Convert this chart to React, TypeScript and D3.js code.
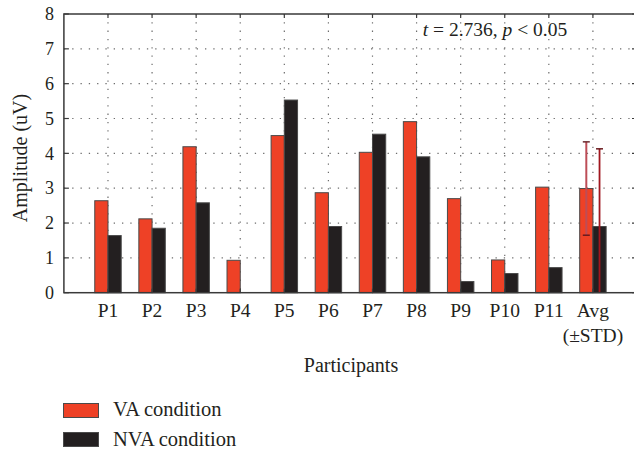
import React from "react";
import * as d3 from "d3";

const categories = ["P1", "P2", "P3", "P4", "P5", "P6", "P7", "P8", "P9", "P10", "P11", "Avg"];
const vaValues = [2.64, 2.12, 4.19, 0.93, 4.51, 2.87, 4.03, 4.91, 2.7, 0.94, 3.03, 2.99];
const nvaValues = [1.64, 1.85, 2.58, 0, 5.53, 1.9, 4.55, 3.9, 0.32, 0.55, 0.72, 1.9];
const avgStd = [1.34, 2.23];
const yTicks = [0, 1, 2, 3, 4, 5, 6, 7, 8];

const W = 634;
const H = 451;
const FONT = "'Liberation Serif', 'DejaVu Serif', serif";
const VA_COLOR = "#ee4126";
const NVA_COLOR = "#231f20";
const TXT = "#231f20";

export default function App() {
  const x = d3.scaleLinear().domain([0, 13]).range([63.9, 637]);
  const y = d3.scaleLinear().domain([0, 8]).range([292.7, 14]);
  const bw = x(0.3) - x(0);
  const left = x(0);
  const right = x(13);
  const top = y(8);
  const bottom = y(0);
  const grid = "#6d6d6d";

  const avgIdx = categories.length;
  const errVa = { cx: x(avgIdx) - bw / 2, hi: vaValues[11] + avgStd[0], lo: vaValues[11] - avgStd[0] };
  const errNva = { cx: x(avgIdx) + bw / 2, hi: nvaValues[11] + avgStd[1], lo: Math.max(0, nvaValues[11] - avgStd[1]) };

  return (
    <svg width={W} height={H} style={{ position: "absolute", left: 0, top: 0, background: "#fff" }} fontFamily={FONT}>
      {yTicks.slice(1, -1).map((t) => (
        <line key={"gy" + t} x1={left} x2={right} y1={y(t)} y2={y(t)} stroke={grid} strokeWidth={1.2} strokeDasharray="1.3,7" />
      ))}
      {categories.map((c, i) => (
        <line key={"gx" + c} x1={x(i + 1)} x2={x(i + 1)} y1={top} y2={bottom} stroke={grid} strokeWidth={1.2} strokeDasharray="1.3,7" />
      ))}
      {categories.map((c, i) => (
        <g key={"b" + c}>
          {vaValues[i] > 0 && (
            <rect x={x(i + 1) - bw} y={y(vaValues[i])} width={bw} height={bottom - y(vaValues[i])} fill={VA_COLOR} stroke="#4a4a4a" strokeWidth={1} />
          )}
          {nvaValues[i] > 0 && (
            <rect x={x(i + 1)} y={y(nvaValues[i])} width={bw} height={bottom - y(nvaValues[i])} fill={NVA_COLOR} stroke="#4a4a4a" strokeWidth={1} />
          )}
        </g>
      ))}
      <g>
        <line x1={errVa.cx} x2={errVa.cx} y1={y(errVa.hi)} y2={y(errVa.lo)} stroke="#bd4d57" strokeWidth={2} />
        <line x1={errVa.cx - 3.5} x2={errVa.cx + 3.5} y1={y(errVa.hi)} y2={y(errVa.hi)} stroke="#6a2a2e" strokeWidth={1.5} />
        <line x1={errVa.cx - 3.5} x2={errVa.cx + 3.5} y1={y(errVa.lo)} y2={y(errVa.lo)} stroke="#6a1a1e" strokeWidth={1.5} />
        <line x1={errNva.cx} x2={errNva.cx} y1={y(errNva.hi)} y2={y(errNva.lo)} stroke="#a0161e" strokeWidth={1.8} />
        <line x1={errNva.cx - 3.5} x2={errNva.cx + 3.5} y1={y(errNva.hi)} y2={y(errNva.hi)} stroke="#6a1a1e" strokeWidth={1.5} />
      </g>
      <rect x={left} y={top} width={right - left} height={bottom - top} fill="none" stroke="#3a3a3a" strokeWidth={1.5} />
      {yTicks.map((t) => (
        <g key={"yt" + t}>
          <line x1={left} x2={left + 5} y1={y(t)} y2={y(t)} stroke="#3a3a3a" strokeWidth={1.2} />
          <line x1={right - 5} x2={right} y1={y(t)} y2={y(t)} stroke="#3a3a3a" strokeWidth={1.2} />
          <text x={54} y={y(t)} dy="0.35em" textAnchor="end" fontSize={18} fill={TXT}>{t}</text>
        </g>
      ))}
      {categories.map((c, i) => (
        <g key={"xt" + c}>
          <line x1={x(i + 1)} x2={x(i + 1)} y1={top} y2={top + 4} stroke="#3a3a3a" strokeWidth={1.2} />
          <line x1={x(i + 1)} x2={x(i + 1)} y1={bottom} y2={bottom - 4} stroke="#3a3a3a" strokeWidth={1.2} />
          <text x={x(i + 1)} y={317} textAnchor="middle" fontSize={19.5} fill={TXT}>{c}</text>
        </g>
      ))}
      <text x={x(12)} y={342} textAnchor="middle" fontSize={19.5} fill={TXT}>(±STD)</text>
      <text x={351} y={372} textAnchor="middle" fontSize={20} fill={TXT}>Participants</text>
      <text transform={`translate(27,158) rotate(-90)`} textAnchor="middle" fontSize={20} fill={TXT}>Amplitude (uV)</text>
      <text x={495} y={36} textAnchor="middle" fontSize={19.5} fill={TXT}>
        <tspan fontStyle="italic">t</tspan> = 2.736, <tspan fontStyle="italic">p</tspan> {"< 0.05"}
      </text>
      <rect x={63.5} y={403.5} width={35} height={14} fill={VA_COLOR} stroke="#4a4a4a" strokeWidth={1} />
      <text x={113} y={416} fontSize={20.5} fill={TXT}>VA condition</text>
      <rect x={63.5} y={432.5} width={35} height={14} fill={NVA_COLOR} stroke="#4a4a4a" strokeWidth={1} />
      <text x={113} y={445.5} fontSize={20.5} fill={TXT}>NVA condition</text>
    </svg>
  );
}
